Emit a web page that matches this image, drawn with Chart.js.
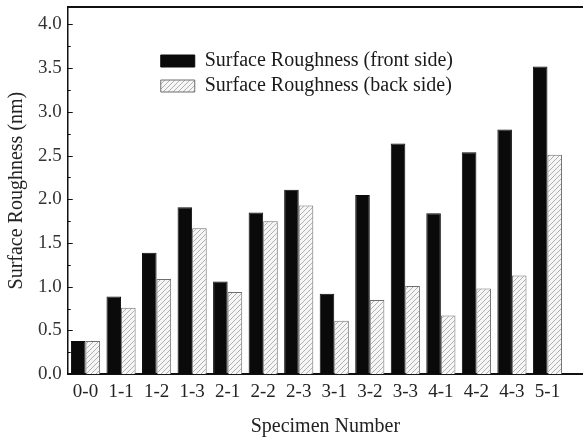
<!DOCTYPE html>
<html lang="en">
<head>
<meta charset="UTF-8">
<title>Surface Roughness</title>
<script src="https://cdn.jsdelivr.net/npm/chart.js"></script>
<style>
    body { margin: 0; background: #fff; }
    #caixa { width: 583px; height: 437px; }
</style>
</head>
<body>
<div id="caixa"><canvas id="grafico"></canvas></div>
<script>
    // values (nm)
    var specimens = ['0-0', '1-1', '1-2', '1-3', '2-1', '2-2', '2-3', '3-1', '3-2', '3-3', '4-1', '4-2', '4-3', '5-1'];
    var frontSide = [0.38, 0.89, 1.39, 1.91, 1.06, 1.85, 2.11, 0.92, 2.05, 2.64, 1.84, 2.54, 2.80, 3.52];
    var backSide = [0.38, 0.76, 1.09, 1.67, 0.94, 1.75, 1.93, 0.61, 0.85, 1.01, 0.67, 0.98, 1.13, 2.51];
    var yTicks = [0, 0.5, 1.0, 1.5, 2.0, 2.5, 3.0, 3.5, 4.0];
    var yMinorTicks = [0.25, 0.75, 1.25, 1.75, 2.25, 2.75, 3.25, 3.75];

    var serif = "'Liberation Serif', 'Times New Roman', serif";

    function hachura() {
        var c = document.createElement('canvas');
        c.width = 5;
        c.height = 5;
        var g = c.getContext('2d');
        g.fillStyle = '#f6f6f6';
        g.fillRect(0, 0, 5, 5);
        g.strokeStyle = '#b0b0b0';
        g.lineWidth = 1;
        g.beginPath();
        g.moveTo(-1, 6); g.lineTo(6, -1);
        g.moveTo(-3.5, 3.5); g.lineTo(3.5, -3.5);
        g.moveTo(1.5, 8.5); g.lineTo(8.5, 1.5);
        g.stroke();
        return g.createPattern(c, 'repeat');
    }

    function pontos(lista) {
        return lista.map(function (v, i) { return { x: i, y: v }; });
    }

    var moldura = {
        id: 'moldura',
        afterLayout: function (chart) {
            var a = chart.chartArea;
            chart.legend.left = a.left + 88;
            chart.legend.top = a.top + 39;
        },
        afterDraw: function (chart) {
            var ctx = chart.ctx;
            var a = chart.chartArea;
            var y = chart.scales.y;
            ctx.save();
            ctx.strokeStyle = '#111';
            ctx.lineWidth = 2;
            ctx.beginPath();
            ctx.moveTo(a.left, a.top);
            ctx.lineTo(a.right, a.top);
            ctx.stroke();
            ctx.lineWidth = 1.2;
            ctx.beginPath();
            yTicks.forEach(function (v) {
                var p = Math.round(y.getPixelForValue(v)) + 0.5;
                ctx.moveTo(a.left, p);
                ctx.lineTo(a.left + 5, p);
            });
            yMinorTicks.forEach(function (v) {
                var p = Math.round(y.getPixelForValue(v)) + 0.5;
                ctx.moveTo(a.left, p);
                ctx.lineTo(a.left + 3, p);
            });
            ctx.stroke();
            ctx.restore();
        }
    };

    var padrao = hachura();

    new Chart(document.getElementById('grafico'), {
        type: 'bar',
        data: {
            datasets: [{
                label: 'Surface Roughness (front side)',
                data: pontos(frontSide),
                backgroundColor: '#0a0a0a',
                borderColor: '#0a0a0a',
                borderWidth: 1,
                categoryPercentage: 0.82,
                barPercentage: 1.0
            }, {
                label: 'Surface Roughness (back side)',
                data: pontos(backSide),
                backgroundColor: padrao,
                borderColor: '#6e6e6e',
                borderWidth: 1,
                categoryPercentage: 0.82,
                barPercentage: 1.0
            }]
        },
        options: {
            responsive: true,
            maintainAspectRatio: false,
            animation: false,
            layout: { padding: { left: 0, top: 7, right: 0, bottom: 0 } },
            plugins: {
                tooltip: { enabled: false },
                legend: {
                    position: 'chartArea',
                    align: 'start',
                    labels: {
                        boxWidth: 34,
                        boxHeight: 12,
                        padding: 5,
                        color: '#1a1a1a',
                        font: { family: serif, size: 20 }
                    }
                }
            },
            scales: {
                x: {
                    type: 'linear',
                    offset: false,
                    min: -0.5,
                    max: 14.0,
                    grid: { display: false, drawTicks: false },
                    border: { display: true, color: '#111', width: 2 },
                    afterBuildTicks: function (scale) {
                        scale.ticks = specimens.map(function (s, i) { return { value: i }; });
                    },
                    ticks: {
                        padding: 6,
                        color: '#222',
                        font: { family: serif, size: 19 },
                        maxRotation: 0,
                        autoSkip: false,
                        callback: function (v) { return specimens[v]; }
                    },
                    title: {
                        display: true,
                        text: 'Specimen Number',
                        color: '#222',
                        font: { family: serif, size: 20, lineHeight: 1.0 },
                        padding: { top: 8, bottom: 0 }
                    }
                },
                y: {
                    min: 0,
                    max: 4.2,
                    grid: { display: false, drawTicks: false },
                    border: { display: true, color: '#111', width: 1.5 },
                    afterBuildTicks: function (scale) {
                        scale.ticks = yTicks.map(function (v) { return { value: v }; });
                    },
                    afterFit: function (scale) {
                        scale.paddingTop = 0;
                    },
                    ticks: {
                        padding: 6,
                        color: '#333',
                        font: { family: serif, size: 19, lineHeight: 0.8 },
                        callback: function (v) { return v.toFixed(1); }
                    },
                    title: {
                        display: true,
                        text: 'Surface Roughness (nm)',
                        color: '#222',
                        font: { family: serif, size: 20 },
                        padding: { top: 5, bottom: 3 }
                    }
                }
            }
        },
        plugins: [moldura]
    });
</script>
</body>
</html>
